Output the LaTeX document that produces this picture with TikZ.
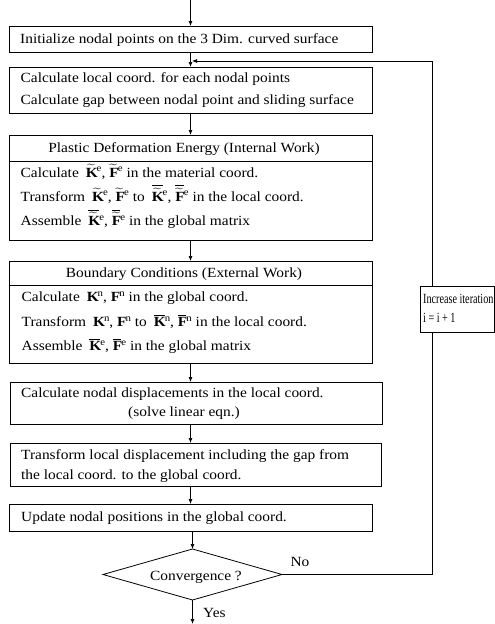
\documentclass[tikz,border=0pt]{standalone}
\usepackage{amsmath}
\usepackage{graphicx}
\usepackage{fontspec}
\setmainfont{Liberation Serif}[FakeStretch=1.1]
\usetikzlibrary{shapes.geometric,arrows.meta}
\newcommand\myTKe{\widetilde{\mathbf{K}}^{\mathrm{e}}}
\newcommand\myTFe{\widetilde{\mathbf{F}}^{\mathrm{e}}}
\newcommand\myBTKe{\overline{\widetilde{\mathbf{K}}}{}^{\mathrm{e}}}
\newcommand\myBTFe{\overline{\widetilde{\mathbf{F}}}{}^{\mathrm{e}}}
\newcommand\myKn{\mathbf{K}^{\mathrm{n}}}
\newcommand\myFn{\mathbf{F}^{\mathrm{n}}}
\newcommand\myBKn{\overline{\mathbf{K}}{}^{\mathrm{n}}}
\newcommand\myBFn{\overline{\mathbf{F}}{}^{\mathrm{n}}}
\newcommand\myBKe{\overline{\mathbf{K}}{}^{\mathrm{e}}}
\newcommand\myBFe{\overline{\mathbf{F}}{}^{\mathrm{e}}}
\begin{document}
\begin{tikzpicture}[x=1pt,y=-1pt,
  font=\fontsize{14}{15}\selectfont,
  box/.style={draw, line width=0.8pt, inner sep=0pt, outer sep=0pt},
  txt/.style={anchor=base west, inner sep=0pt},
  ctxt/.style={anchor=base, inner sep=0pt},
  arr/.style={-{Latex[length=5pt,width=4pt]}, line width=0.7pt},
  ln/.style={line width=0.7pt}]
\useasboundingbox (0,0) rectangle (495,624);

% boxes
\node[box, minimum width=363pt, minimum height=26pt] (b1) at (190.5,39) {};
\node[box, minimum width=363pt, minimum height=46pt] (b2) at (190.5,90) {};
\node[box, minimum width=363pt, minimum height=105pt] (b3) at (190.5,187.5) {};
\node[box, minimum width=363pt, minimum height=102pt] (b4) at (190.5,312) {};
\node[box, minimum width=372pt, minimum height=42pt] (b5) at (196,403) {};
\node[box, minimum width=371pt, minimum height=43pt] (b6) at (195.5,464.5) {};
\node[box, minimum width=363pt, minimum height=27pt] (b7) at (190.5,517.5) {};
\node[box, shape=diamond, aspect=3.5, minimum width=179pt, minimum height=51pt] (dia) at (192.5,574.5) {};
\node[box, minimum width=74pt, minimum height=46pt] (it) at (457,309) {};

% header separators
\draw[line width=0.8pt] (b3.west |- 0,161) -- (b3.east |- 0,161);
\draw[line width=0.8pt] (b4.west |- 0,285) -- (b4.east |- 0,285);

% texts
\node[txt] (t1) at (20,43.5) {Initialize nodal points on the 3 Dim. curved surface};
\node[txt] (t2a) at (20.5,82.5) {Calculate local coord. for each nodal points};
\node[txt] (t2b) at (20.5,104.5) {Calculate gap between nodal point and sliding surface};
\node[ctxt] (h3) at (184,152.5) {Plastic Deformation Energy (Internal Work)};
\node[txt] (t3a) at (20.5,177) {Calculate\enspace $\myTKe$, $\myTFe$\ in the material coord.};
\node[txt] (t3b) at (20.5,201) {Transform\enspace $\myTKe$, $\myTFe$\ to\enspace $\myBTKe$, $\myBTFe$\ in the local coord.};
\node[txt] (t3c) at (20.5,225.5) {Assemble\enspace $\myBTKe$, $\myBTFe$\ in the global matrix};
\node[ctxt] (h4) at (184,277.5) {Boundary Conditions (External Work)};
\node[txt] (t4a) at (21.5,301.5) {Calculate\enspace $\myKn$, $\myFn$\ in the global coord.};
\node[txt] (t4b) at (21.5,326.5) {Transform\enspace $\myKn$, $\myFn$\ to\enspace $\myBKn$, $\myBFn$\ in the local coord.};
\node[txt] (t4c) at (21.5,350.5) {Assemble\enspace $\myBKe$, $\myBFe$\ in the global matrix};
\node[txt] (t5a) at (21,397.5) {Calculate nodal displacements in the local coord.};
\node[txt] (t5b) at (128,416) {(solve linear eqn.)};
\node[txt] (t6a) at (21,459.5) {Transform local displacement including the gap from};
\node[txt] (t6b) at (21,479) {the local coord. to the global coord.};
\node[txt] (t7) at (21,521.5) {Update nodal positions in the global coord.};
\node[ctxt] (td) at (196,580.5) {Convergence ?};
\node[txt] (ti1) at (423,303) {\scalebox{0.66}[1]{Increase iteration}};
\node[txt] (ti2) at (423,322.5) {\scalebox{0.66}[1]{i = i + 1}};
\node[ctxt] (no) at (300,566) {No};
\node[txt] (yes) at (203,617) {Yes};

% connectors
\coordinate (start) at (190.5,0);
\coordinate (finish) at (192.5,624);
\coordinate (join) at (190.5,61);
\coordinate (c1) at (432,574.5);
\coordinate (c2) at (432,61);
\draw[arr] (start) -- (b1.north);
\draw[arr] (b1.south) -- (b2.north);
\draw[arr] (b2.south) -- (b3.north);
\draw[arr] (b3.south) -- (b4.north);
\draw[arr] (b4.south) -- (b4.south |- b5.north);
\draw[arr] (b4.south |- b5.south) -- (b4.south |- b6.north);
\draw[arr] (b4.south |- b6.south) -- (b7.north);
\draw[arr] (b7.south) -- (b7.south -| dia.north) -- (dia.north);
\draw[arr] (dia.south) -- (finish);
\draw[ln] (dia.east) -- (c1) -- (c1 |- it.south);
\draw[arr] (c1 |- it.north) -- (c2) -- ([xshift=1.5pt]join);
\end{tikzpicture}
\end{document}
